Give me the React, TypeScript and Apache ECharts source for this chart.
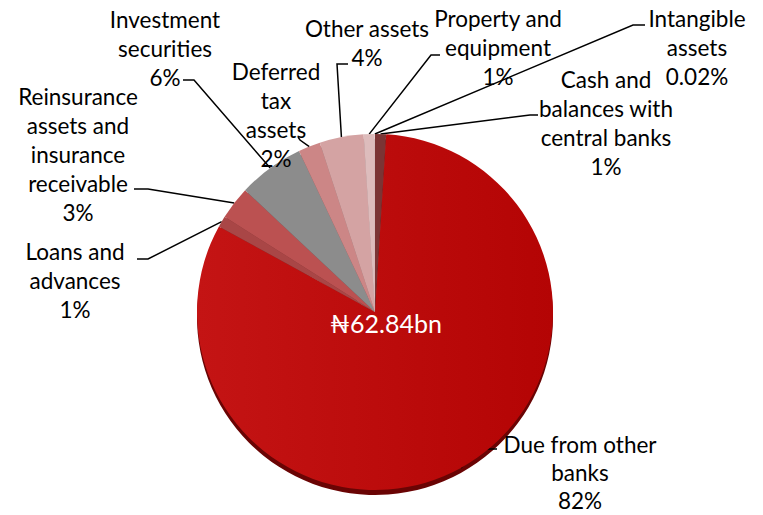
import React, { useEffect, useRef } from "react";
import * as echarts from "echarts";

const categories = [
  "Cash and\nbalances with\ncentral banks",
  "Due from other\nbanks",
  "Loans and\nadvances",
  "Reinsurance\nassets and\ninsurance\nreceivable",
  "Investment\nsecurities",
  "Deferred\ntax\nassets",
  "Other assets",
  "Property and\nequipment",
  "Intangible\nassets",
];
const shares = [1, 82, 1, 3, 6, 2, 4, 1, 0.02];
const centerLabel = "₦62.84bn";

const colors = ["#7b3434", "#b80909", "#a94646", "#bb5151", "#8c8c8c", "#cc8686", "#d4a3a3", "#ddbcbc", "#e3caca"];
const edgeColors = ["#4a1c1c", "#6a0404", "#6a2626", "#773030", "#555555", "#8a5555", "#927070", "#9a8080", "#a08888"];

// label layout: [x, top y], leader elbow [x,y], leader end [x,y]
const labelPos = [
  [606, 65], [580, 430], [75, 237], [78, 82], [165, 5], [276, 57], [367, 14], [498, 4], [697, 4],
];
const labelLineHeight = [29, 28, 29, 29, 29, 29, 29, 29, 29];
const leaderElbow = [
  [530, 115], [478, 449], [148, 259], [148, 189], [194, 80], [300, 140], [337, 64], [431, 55], [633, 25],
];
const leaderEnd = [
  [538, 115], [497, 449], [137, 259], [134, 189], [183, 80], [298, 137], [348, 64], [440, 55], [645, 25],
];

const FONT = "Lato, 'DejaVu Sans', sans-serif";

export default function App() {
  const ref = useRef<HTMLDivElement>(null);
  useEffect(() => {
    if (!ref.current) return;
    document.body.style.margin = "0";
    const chart = echarts.init(ref.current, undefined, { renderer: "svg" });
    const cx = 375, cy = 312, r = 178;
    const total = shares.reduce((a, b) => a + b, 0);
    const edgePoint = (i: number) => {
      let cum = 0;
      for (let k = 0; k < i; k++) cum += shares[k];
      const mid = ((cum + shares[i] / 2) / total) * Math.PI * 2;
      return [cx + r * Math.sin(mid), cy - r * Math.cos(mid)];
    };
    chart.setOption({
      animation: false,
      backgroundColor: "#ffffff",
      series: [
        {
          type: "pie",
          silent: true,
          center: [cx, cy + 5],
          radius: r,
          startAngle: 90,
          z: 1,
          label: { show: false },
          labelLine: { show: false },
          data: categories.map((n, i) => ({ name: n, value: shares[i], itemStyle: { color: edgeColors[i] } })),
        },
        {
          type: "pie",
          center: [cx, cy],
          radius: r,
          startAngle: 90,
          z: 2,
          avoidLabelOverlap: false,
          itemStyle: { borderWidth: 0 },
          label: {
            show: true,
            position: "outside",
            formatter: (p: any) => `${p.name}\n${p.value}%`,
            fontFamily: FONT,
            fontSize: 22.5,
            lineHeight: 29,
            color: "#000000",
            align: "center",
          },
          labelLine: { show: true, lineStyle: { color: "#000", width: 1.5 } },
          labelLayout: (params: any) => {
            const i = params.dataIndex;
            const start =
              params.labelLinePoints && params.labelLinePoints[0] ? params.labelLinePoints[0] : edgePoint(i);
            return {
              x: labelPos[i][0],
              y: labelPos[i][1],
              align: "center",
              verticalAlign: "top",
              labelLinePoints: [start, leaderElbow[i], leaderEnd[i]],
            };
          },
          data: categories.map((n, i) => ({
            name: n,
            value: shares[i],
            label: { lineHeight: labelLineHeight[i] },
            itemStyle: {
              color:
                i === 1
                  ? new echarts.graphic.LinearGradient(0, 0, 1, 0, [
                      { offset: 0, color: "#c41414" },
                      { offset: 1, color: "#b40404" },
                    ])
                  : colors[i],
            },
          })),
        },
      ],
      graphic: [
        {
          type: "text",
          x: 386,
          y: 323,
          z: 100,
          style: {
            text: centerLabel,
            fill: "#ffffff",
            font: `25px ${FONT}`,
            textAlign: "center",
            textVerticalAlign: "middle",
          },
        },
      ],
    });
    return () => chart.dispose();
  }, []);
  return <div ref={ref} style={{ width: 763, height: 515 }} />;
}
